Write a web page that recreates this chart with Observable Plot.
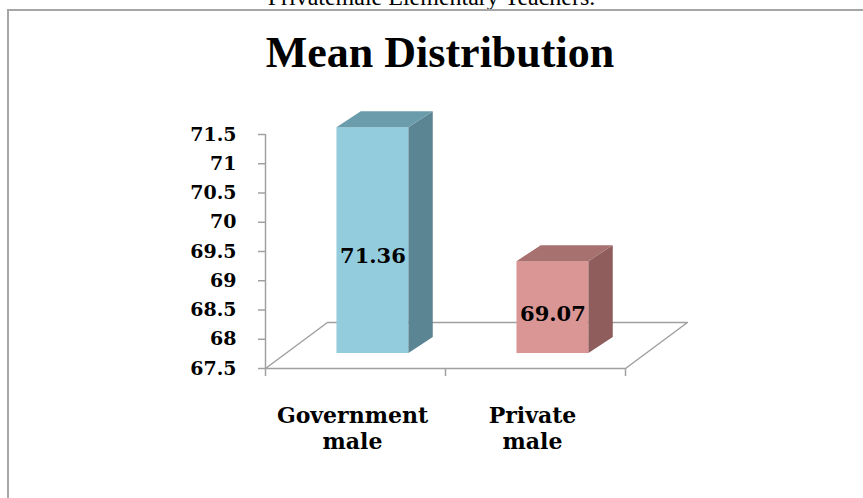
<!DOCTYPE html>
<html>
<head>
<meta charset="utf-8">
<script src="https://cdn.jsdelivr.net/npm/d3@7"></script>
<script src="https://cdn.jsdelivr.net/npm/@observablehq/plot@0.6"></script>
<style>
  html, body { margin: 0; padding: 0; background: #fff; overflow: hidden; width: 863px; height: 498px; }
  #top { position: absolute; left: 0; top: -15px; width: 863px; text-align: center; font: 24px/1 "Liberation Serif", serif; color: #000; white-space: nowrap; }
  #frame { position: absolute; left: 7px; top: 9px; width: 950px; height: 600px; border-top: 2px solid #a6a6a6; border-left: 2px solid #a6a6a6; }
  #title { position: absolute; left: 0; top: 31px; width: 880px; text-align: center; font: bold 44px/1 "Liberation Serif", serif; color: #000; }
  #chart { position: absolute; left: 0; top: 0; }
</style>
</head>
<body>
<div id="top">Privatemale Elementary Teachers.</div>
<div id="frame"></div>
<div id="title">Mean Distribution</div>
<div id="chart"></div>
<script>
// ---- data ----
const categories = ["Government\nmale", "Private\nmale"];
const values = [71.36, 69.07];
const valueLabels = ["71.36", "69.07"];
const yTicks = [67.5, 68, 68.5, 69, 69.5, 70, 70.5, 71, 71.5];
const frontColors = ["#93cddd", "#d99694"];
const sideColors = ["#5b8592", "#8e5d5c"];
const topColors = ["#6b9cab", "#a6716f"];

// ---- 3D geometry (in data units) ----
const base = 67.5;
const floorDX = 0.344, floorDY = 0.786;   // floor depth
const barFY = 0.256;                        // front face lift
const barDX = 0.135, barDY = 0.274;         // bar depth
const halfL = 0.103, halfR = 0.297;         // front face extent around band centre
const tickLenX = 0.039, tickLenY = 0.137;   // tick lengths

const bars = values.map((v, i) => {
  const c = i + 0.5;
  return {i, c, v, xl: c - halfL, xr: c + halfR, y1: base + barFY, y2: v + barFY};
});

const front = bars.map(b => ({x1: b.xl, x2: b.xr, y1: b.y1, y2: b.y2, fill: frontColors[b.i]}));
const side = bars.flatMap(b => [
  {x: b.xr, y1: b.y1, y2: b.y2, fill: sideColors[b.i], z: b.i},
  {x: b.xr + barDX, y1: b.y1 + barDY, y2: b.y2 + barDY, fill: sideColors[b.i], z: b.i}
]);
const topFace = bars.flatMap(b => [
  {y: b.y2, x1: b.xl, x2: b.xr, fill: topColors[b.i], z: b.i},
  {y: b.y2 + barDY, x1: b.xl + barDX, x2: b.xr + barDX, fill: topColors[b.i], z: b.i}
]);
const labels = bars.map(b => ({x: b.c + 0.097, y: b.y1 + 0.43 * (b.y2 - b.y1), text: valueLabels[b.i]}));
const cats = categories.map((t, i) => ({x: i + 0.5, text: t}));

const floor = [
  {x: 0, y: base}, {x: 2, y: base},
  {x: 2 + floorDX, y: base + floorDY}, {x: floorDX, y: base + floorDY},
  {x: 0, y: base}
];

const plot = Plot.plot({
  width: 863,
  height: 498,
  marginLeft: 265,
  marginRight: 238,
  marginTop: 134,
  marginBottom: 130,
  style: {background: "transparent", overflow: "visible", color: "#000"},
  x: {type: "linear", domain: [0, 2], axis: null},
  y: {type: "linear", domain: [67.5, 71.5], axis: null},
  marks: [
    Plot.line(floor, {x: "x", y: "y", stroke: "#a0a0a0", strokeWidth: 1.5}),
    Plot.ruleX([0], {x: d => d, y1: 67.5, y2: 71.5, stroke: "#a0a0a0", strokeWidth: 1.5}),
    Plot.ruleY(yTicks, {y: d => d, x1: -tickLenX, x2: 0, stroke: "#a0a0a0", strokeWidth: 1.5}),
    Plot.text(yTicks, {y: d => d, x: 0, text: d => String(d), textAnchor: "end", dx: -29,
      fontFamily: "DejaVu Serif", fontWeight: "bold", fontSize: 19, fill: "#000"}),
    Plot.ruleX([0, 1, 2], {x: d => d, y1: 67.5, y2: 67.5 - tickLenY, stroke: "#a0a0a0", strokeWidth: 1.5}),
    Plot.rect(front, {x1: "x1", x2: "x2", y1: "y1", y2: "y2", fill: "fill"}),
    Plot.areaY(side, {x: "x", y1: "y1", y2: "y2", fill: "fill", z: "z", curve: "linear"}),
    Plot.areaX(topFace, {y: "y", x1: "x1", x2: "x2", fill: "fill", z: "z", curve: "linear"}),
    Plot.text(labels, {x: "x", y: "y", text: "text", fontFamily: "DejaVu Serif", fontWeight: "bold", fontSize: 21, fill: "#000"}),
    Plot.text(cats, {x: "x", text: "text", frameAnchor: "bottom", lineAnchor: "top", dy: 35, dx: -3,
      lineHeight: 1.22, fontFamily: "DejaVu Serif", fontWeight: "bold", fontSize: 22, fill: "#000"})
  ]
});
document.getElementById("chart").appendChild(plot);
</script>
</body>
</html>
